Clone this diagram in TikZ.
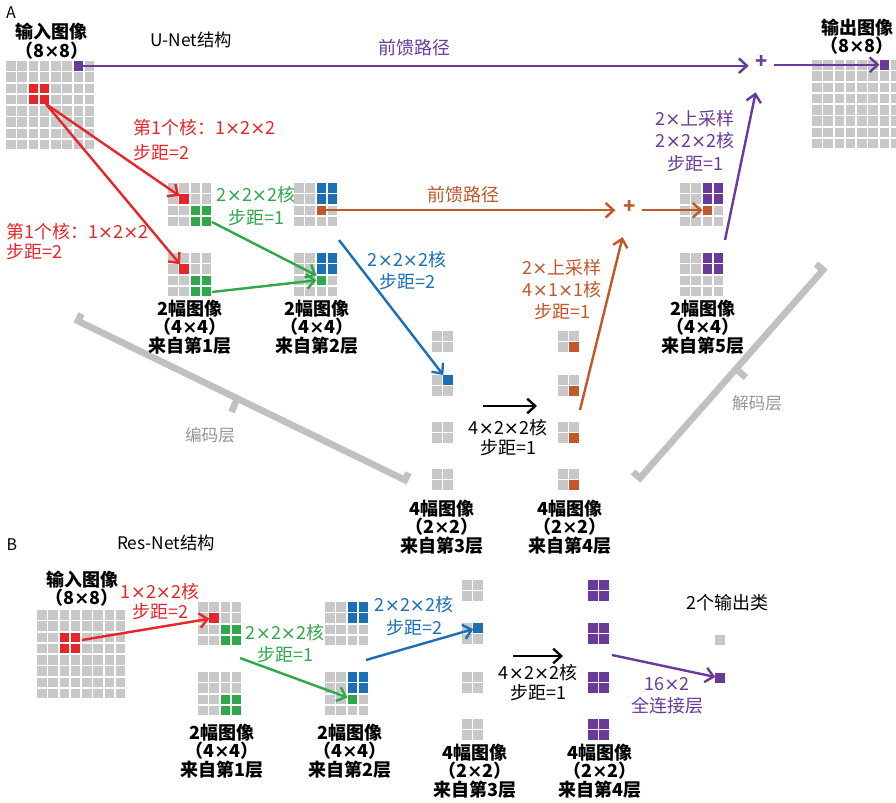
\documentclass[tikz,border=0pt]{standalone}
\usepackage{fontspec}
\setmainfont{Noto Sans CJK SC}
\newfontfamily\timesfont{DejaVu Sans}
\newcommand{\tms}{{\timesfont ×}}
\usetikzlibrary{arrows.meta}
\definecolor{cgrey}{RGB}{200,200,200}
\definecolor{cred}{RGB}{232,38,42}
\definecolor{cgreen}{RGB}{46,168,74}
\definecolor{cblue}{RGB}{26,111,183}
\definecolor{corange}{RGB}{192,88,42}
\definecolor{cpurple}{RGB}{106,58,154}
\definecolor{cbracket}{RGB}{192,192,192}
\definecolor{ctextgrey}{RGB}{150,150,150}
\newcommand{\gridcells}[3]{%
  \foreach \gi in {0,...,#3}{\foreach \gj in {0,...,#3}{%
    \fill[cgrey] ({#1+\gi*11.25},{#2+\gj*11.25}) rectangle ++(9.5,9.5);}}}
\newcommand{\paintcell}[5]{\fill[#5] ({#1+(#3)*11.25},{#2+(#4)*11.25}) rectangle ++(9.5,9.5);}
\newcommand{\namedcell}[6]{\node[cellnode,fill=#5] (#6) at ({#1+(#3)*11.25+4.75},{#2+(#4)*11.25+4.75}) {};}
\newcommand{\blockcells}[5]{%
  \paintcell{#1}{#2}{#3}{#4}{#5}\paintcell{#1}{#2}{#3+1}{#4}{#5}%
  \paintcell{#1}{#2}{#3}{#4+1}{#5}\paintcell{#1}{#2}{#3+1}{#4+1}{#5}}
\begin{document}
\begin{tikzpicture}[x=0.75pt,y=-0.75pt,
  cellnode/.style={minimum size=7.125pt,inner sep=0pt,outer sep=0pt,draw=none},
  conn/.style={line width=1.8pt,-{Straight Barb[length=6pt,width=11pt]}},
  blk/.style={font=\bfseries\fontsize{13.5}{13.9}\selectfont,align=center,inner sep=0pt},
  lbl/.style={font=\fontsize{13.5}{17}\selectfont,align=center,inner sep=0pt},
  plusnode/.style={font=\bfseries\fontsize{15}{15}\selectfont,inner sep=0pt},
  bracket/.style={line width=5pt,cbracket,line join=miter},
  greytext/.style={font=\fontsize{12.5}{14}\selectfont,text=ctextgrey,inner sep=0pt}]
\clip (0,0) rectangle (896,803);
\fill[white] (0,0) rectangle (896,803);

% ================= PART A =================
\node[font=\fontsize{12}{12}\selectfont,inner sep=0pt] (labA) at (11,13) {A};
\node[blk,font=\bfseries\fontsize{13.5}{12.75}\selectfont] (tInA) at (52,41) {输入图像\\（8\tms{}8）};
\node[font=\fontsize{13}{13}\selectfont,inner sep=0pt] (tUnet) at (191,40) {U-Net结构};
\node[blk,font=\bfseries\fontsize{13.5}{13.5}\selectfont] (tOutA) at (857,37) {输出图像\\（8\tms{}8）};

% grids
\gridcells{6}{61}{7}
\blockcells{6}{61}{2}{2}{cred}
\namedcell{6}{61}{6}{0}{cpurple}{inP}
\coordinate (aRs) at (46,104);
\gridcells{812}{60}{7}
\namedcell{812}{60}{6}{0}{cpurple}{outP}

\gridcells{168}{183}{3}
\namedcell{168}{183}{1}{1}{cred}{a1tR}
\blockcells{168}{183}{2}{2}{cgreen}
\gridcells{168}{253}{3}
\namedcell{168}{253}{1}{1}{cred}{a1bR}
\blockcells{168}{253}{2}{2}{cgreen}

\gridcells{294}{183}{3}
\blockcells{294}{183}{2}{0}{cblue}
\namedcell{294}{183}{2}{2}{corange}{a2tO}
\gridcells{294}{253}{3}
\blockcells{294}{253}{2}{0}{cblue}
\namedcell{294}{253}{2}{2}{cgreen}{a2bG}

\gridcells{680}{183}{3}
\blockcells{680}{183}{2}{0}{cpurple}
\namedcell{680}{183}{2}{2}{corange}{a5tO}
\gridcells{680}{253}{3}
\blockcells{680}{253}{2}{0}{cpurple}

\foreach \yy in {331,375,422,469}{\gridcells{432}{\yy}{1}\gridcells{558}{\yy}{1}\paintcell{558}{\yy}{1}{1}{corange}}
\namedcell{432}{375}{1}{0}{cblue}{a3B}

% plus nodes
\node[plusnode,text=cpurple] (plusA) at (762,62) {+};
\node[plusnode,text=corange] (plusB) at (630,207) {+};

% brackets
\draw[bracket] (81.5,313.8) -- (78,321) -- (405,480) -- (408.5,472.8);
\draw[bracket] (237,399) -- (231.5,412);
\draw[bracket] (816,264) -- (823,270) -- (640,478) -- (633,472);
\draw[bracket] (736,369) -- (746,377.5);
\node[greytext] (tEnc) at (210,435) {编码层};
\node[greytext] (tDec) at (757,403) {解码层};

% connectors
\draw[conn,cpurple,shorten >=10pt] (inP.east) -- (inP.east -| plusA);
\node[lbl,text=cpurple] (tFfA) at (414,48) {前馈路径};
\draw[conn,cpurple] ([xshift=4pt]plusA.east |- outP) -- (outP.west);

\draw[conn,cred] (aRs) -- (a1tR);
\draw[conn,cred] (aRs) -- (a1bR);
\node[lbl,text=cred,align=left,anchor=west,font=\fontsize{13.5}{18.5}\selectfont] (tRed1) at (133,140) {第1个核：1\tms{}2\tms{}2\\步距=2};
\node[lbl,text=cred,align=left,anchor=west,font=\fontsize{13.5}{15}\selectfont] (tRed2) at (6,242) {第1个核：1\tms{}2\tms{}2\\步距=2};

\coordinate (aG1s) at (212,222);
\coordinate (aG2s) at (212,292);
\draw[conn,cgreen] (aG1s) -- (a2bG.north west);
\draw[conn,cgreen] (aG2s) -- (a2bG.west);
\node[lbl,text=cgreen] (tGreenA) at (256,206) {2\tms{}2\tms{}2核\\步距=1};

\draw[conn,corange,shorten >=11pt] (a2tO.east) -- (a2tO.east -| plusB);
\node[lbl,text=corange] (tFfB) at (463,195) {前馈路径};
\draw[conn,corange] ([xshift=4pt]plusB.east |- a5tO) -- (a5tO.west);

\coordinate (aBs) at (339,240);
\draw[conn,cblue] (aBs) -- (a3B.north west);
\node[lbl,text=cblue,font=\fontsize{13.5}{16.5}\selectfont] (tBlueA) at (407,271) {2\tms{}2\tms{}2核\\步距=2};

\coordinate (aKs) at (483,406);
\coordinate (aKe) at (537,406);
\draw[conn,black] (aKs) -- (aKe);
\node[lbl,font=\fontsize{13.5}{15}\selectfont] (tKA) at (508,438) {4\tms{}2\tms{}2核\\步距=1};

\coordinate (aOs) at (580,410);
\draw[conn,corange,shorten >=18pt] (aOs) -- (plusB);
\node[lbl,text=corange,font=\fontsize{13.5}{16.5}\selectfont] (tUpO) at (562,290) {2\tms{}上采样\\4\tms{}1\tms{}1核\\步距=1};

\coordinate (aPs) at (725,240);
\draw[conn,cpurple,shorten >=18pt] (aPs) -- (plusA);
\node[lbl,text=cpurple,font=\fontsize{13.5}{17}\selectfont] (tUpP) at (695,141) {2\tms{}上采样\\2\tms{}2\tms{}2核\\步距=1};

\node[blk] (tL1A) at (190,327) {2幅图像\\（4\tms{}4）\\来自第1层};
\node[blk] (tL2A) at (317,327) {2幅图像\\（4\tms{}4）\\来自第2层};
\node[blk] (tL5A) at (703,327) {2幅图像\\（4\tms{}4）\\来自第5层};
\node[blk] (tL3A) at (442,527) {4幅图像\\（2\tms{}2）\\来自第3层};
\node[blk] (tL4A) at (570,527) {4幅图像\\（2\tms{}2）\\来自第4层};

% ================= PART B =================
\node[font=\fontsize{12}{12}\selectfont,inner sep=0pt] (labB) at (12,545) {B};
\node[font=\fontsize{13}{13}\selectfont,inner sep=0pt] (tRes) at (166,543) {Res-Net结构};
\node[blk,font=\bfseries\fontsize{13.5}{13.5}\selectfont] (tInB) at (82,589) {输入图像\\（8\tms{}8）};

\gridcells{37}{610}{7}
\blockcells{37}{610}{2}{2}{cred}
\coordinate (bRs) at (82,640);

\gridcells{198}{602}{3}
\namedcell{198}{602}{1}{1}{cred}{b1tR}
\blockcells{198}{602}{2}{2}{cgreen}
\gridcells{198}{672}{3}
\blockcells{198}{672}{2}{2}{cgreen}

\gridcells{325}{602}{3}
\blockcells{325}{602}{2}{0}{cblue}
\gridcells{325}{672}{3}
\blockcells{325}{672}{2}{0}{cblue}
\namedcell{325}{672}{2}{2}{cgreen}{b2bG}

\foreach \yy in {580,623,672,719}{\gridcells{462}{\yy}{1}\blockcells{588}{\yy}{0}{0}{cpurple}}
\namedcell{462}{623}{1}{0}{cblue}{b3B}

\node[cellnode,fill=cgrey] (bOutG) at (720,640) {};
\node[cellnode,fill=cpurple] (bOutP) at (720,678) {};

\draw[conn,cred] (bRs) -- (b1tR);
\node[lbl,text=cred,font=\fontsize{13.5}{15}\selectfont] (tRedB) at (160,602) {1\tms{}2\tms{}2核\\步距=2};

\coordinate (bGs) at (240,658);
\draw[conn,cgreen] (bGs) -- (b2bG);
\node[lbl,text=cgreen,font=\fontsize{13.5}{16.5}\selectfont] (tGreenB) at (285,644) {2\tms{}2\tms{}2核\\步距=1};

\coordinate (bBs) at (366,660);
\draw[conn,cblue] (bBs) -- (b3B);
\node[lbl,text=cblue,font=\fontsize{13.5}{17}\selectfont] (tBlueB) at (414,616) {2\tms{}2\tms{}2核\\步距=2};

\coordinate (bKs) at (513,656);
\coordinate (bKe) at (563,656);
\draw[conn,black] (bKs) -- (bKe);
\node[lbl,font=\fontsize{13.5}{15}\selectfont] (tKB) at (538,683) {4\tms{}2\tms{}2核\\步距=1};

\coordinate (bPs) at (612,655);
\draw[conn,cpurple] (bPs) -- (bOutP);
\node[lbl,text=cpurple,font=\fontsize{13.5}{16.5}\selectfont] (tFC) at (667,696) {16\tms{}2\\全连接层};
\node[lbl,font=\fontsize{13.5}{14}\selectfont] (tOutCls) at (727,603) {2个输出类};

\node[blk] (tL1B) at (222,751) {2幅图像\\（4\tms{}4）\\来自第1层};
\node[blk] (tL2B) at (350,751) {2幅图像\\（4\tms{}4）\\来自第2层};
\node[blk] (tL3B) at (475,771) {4幅图像\\（2\tms{}2）\\来自第3层};
\node[blk] (tL4B) at (600,771) {4幅图像\\（2\tms{}2）\\来自第4层};
\end{tikzpicture}
\end{document}
